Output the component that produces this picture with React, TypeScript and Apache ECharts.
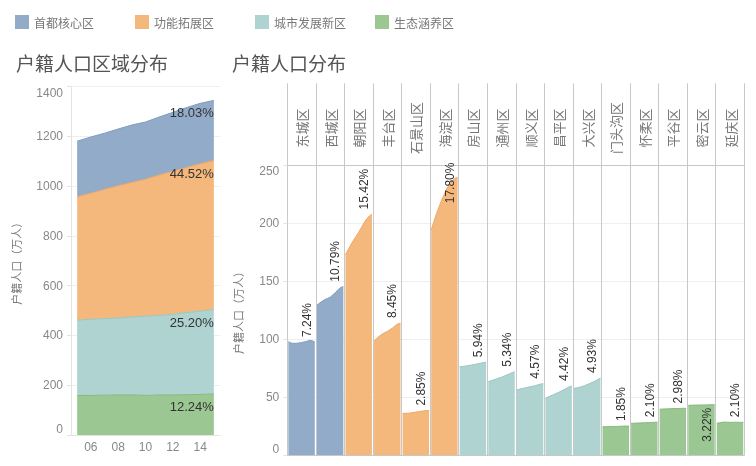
import React, { useEffect, useRef } from 'react';
import * as echarts from 'echarts';

const years = [2005, 2006, 2007, 2008, 2009, 2010, 2011, 2012, 2013, 2014, 2015];

const groupNames = ['首都核心区', '功能拓展区', '城市发展新区', '生态涵养区'];
const groupColors = ['#92abc9', '#f5b87c', '#aed3d0', '#9ac792'];
const groupLineColors = ['#7f9cc0', '#eea763', '#98c6c2', '#86b97d'];

const coreValues = [223, 226, 226, 228, 231, 230, 233, 237, 241, 243, 242];
const expandValues = [496, 507, 519, 532, 541, 550, 564, 575, 583, 592, 599];
const newDevValues = [303, 306, 308, 309, 313, 319, 320, 324, 330, 335, 339];
const ecoValues = [159, 159, 160, 161, 161, 159, 161, 161, 162, 163, 165];
const groupShares = ['18.03%', '44.52%', '25.20%', '12.24%'];

const districts = ['东城区', '西城区', '朝阳区', '丰台区', '石景山区', '海淀区', '房山区', '通州区', '顺义区', '昌平区', '大兴区', '门头沟区', '怀柔区', '平谷区', '密云区', '延庆区'];
const districtGroup = [0, 0, 1, 1, 1, 1, 2, 2, 2, 2, 2, 3, 3, 3, 3, 3];
const districtShares = ['7.24%', '10.79%', '15.42%', '8.45%', '2.85%', '17.80%', '5.94%', '5.34%', '4.57%', '4.42%', '4.93%', '1.85%', '2.10%', '2.98%', '3.22%', '2.10%'];

const dongcheng = [97.7, 96.5, 96.3, 96.3, 96.5, 97, 97.5, 98, 98.8, 98.5, 97.4];
const xicheng = [129, 131, 132.5, 134, 135, 136, 138, 140, 142.5, 144.5, 145.1];
const chaoyang = [172.4, 177, 181, 185, 188.5, 192, 196, 200, 203.5, 206, 207.4];
const fengtai = [98, 100.5, 102.5, 104, 105.5, 106.5, 108, 109.5, 111.5, 113, 113.7];
const shijingshan = [35.9, 35.9, 36, 36.3, 36.6, 37, 37.3, 37.7, 38, 38.3, 38.3];
const haidian = [194, 201, 208, 214, 220, 225, 230, 233.5, 236.5, 238.5, 239.4];
const fangshan = [76, 76.3, 76.6, 77, 77.4, 77.8, 78.2, 78.7, 79.2, 79.7, 79.9];
const tongzhou = [63.2, 64, 64.8, 65.5, 66.3, 67, 68, 69, 70, 71, 71.8];
const shunyi = [56, 56.7, 57.3, 57.8, 58.3, 58.8, 59.3, 59.8, 60.5, 61.2, 61.5];
const changping = [48.9, 50, 51, 52, 53, 54, 55.2, 56.3, 57.5, 58.7, 59.5];
const daxing = [57.5, 57.8, 58.3, 59, 59.8, 60.7, 61.7, 62.7, 63.8, 65, 66.3];
const mentougou = [24.3, 24.4, 24.4, 24.5, 24.5, 24.6, 24.7, 24.8, 24.9, 24.9, 24.9];
const huairou = [27.3, 27.4, 27.5, 27.6, 27.7, 27.8, 27.9, 28, 28.1, 28.2, 28.2];
const pinggu = [39.5, 39.6, 39.7, 39.8, 39.9, 40, 40, 40.1, 40.2, 40.3, 40.1];
const miyun = [42.8, 42.9, 43, 43, 43.1, 43.1, 43.2, 43.2, 43.3, 43.3, 43.3];
const yanqing = [27.4, 27.8, 28.2, 28.4, 28.3, 28.1, 28.2, 28.3, 28.2, 28.1, 28.2];

const districtValues = [dongcheng, xicheng, chaoyang, fengtai, shijingshan, haidian, fangshan, tongzhou, shunyi, changping, daxing, mentougou, huairou, pinggu, miyun, yanqing];

const leftTicks = [0, 200, 400, 600, 800, 1000, 1200, 1400];
const rightTicks = [0, 50, 100, 150, 200, 250];

const FONT = "'Liberation Sans', 'Noto Sans CJK SC', sans-serif";
const CJK = "'Noto Sans CJK SC', sans-serif";

const PANEL = 10.8;
const PAD = 0.4;

export default function App() {
  const ref = useRef<HTMLDivElement>(null);
  useEffect(() => {
    if (!ref.current) return;
    const chart = echarts.init(ref.current, undefined, { renderer: 'svg' });

    const leftSeriesData = [ecoValues, newDevValues, expandValues, coreValues];
    const leftSeriesIdx = [3, 2, 1, 0];
    const leftSeries = leftSeriesIdx.map((gi, k) => {
      const vals = leftSeriesData[k];
      return {
        name: groupNames[gi],
        type: 'line',
        xAxisIndex: 0,
        yAxisIndex: 0,
        stack: 'total',
        encode: { x: 1, y: 0 },
        symbol: 'circle',
        symbolSize: 0,
        showSymbol: true,
        silent: true,
        itemStyle: { color: groupColors[gi] },
        lineStyle: { width: 1, color: groupLineColors[gi] },
        areaStyle: { color: groupColors[gi], opacity: 1 },
        data: vals.map((v, i) => {
          const item: any = { value: [v, years[i]] };
          if (i === vals.length - 1) {
            item.label = {
              show: true,
              formatter: groupShares[gi],
              position: 'bottom',
              align: 'right',
              distance: 6,
              fontSize: 13,
              color: '#333',
              fontFamily: FONT,
            };
          }
          return item;
        }),
      };
    });

    const rightSeries = districts.map((d, di) => {
      const gi = districtGroup[di];
      const vals = districtValues[di];
      const inside = d === '密云区';
      const clampTop = d === '海淀区';
      return {
        name: d,
        type: 'line',
        xAxisIndex: 1,
        yAxisIndex: 1,
        symbol: 'circle',
        symbolSize: 0,
        showSymbol: true,
        silent: true,
        itemStyle: { color: groupColors[gi] },
        lineStyle: { width: 1, color: groupLineColors[gi] },
        areaStyle: { color: groupColors[gi], opacity: 1 },
        data: vals.map((v, i) => {
          const item: any = { value: [di * PANEL + PAD + (years[i] - years[0]), v] };
          if (i === vals.length - 1) {
            item.label = {
              show: true,
              formatter: districtShares[di],
              position: inside ? [-8, 3] : clampTop ? [-8, 26] : [-8, -5],
              rotate: 90,
              align: inside ? 'right' : 'left',
              verticalAlign: 'middle',
              fontSize: 12,
              color: '#333',
              fontFamily: FONT,
            };
          }
          return item;
        }),
      };
    });

    const legendLefts = [15, 135, 255, 375];
    const legends = groupNames.map((n, i) => ({
      data: [n],
      left: legendLefts[i],
      top: 15,
      padding: 0,
      icon: 'rect',
      itemWidth: 14,
      itemHeight: 14,
      itemGap: 0,
      textStyle: { fontSize: 12, color: '#777', fontFamily: CJK },
    }));

    const option: any = {
      animation: false,
      textStyle: { fontFamily: FONT },
      title: [
        { text: '户籍人口区域分布', left: 16, top: 53, padding: 0, textStyle: { fontSize: 19, fontWeight: 'normal', color: '#555', fontFamily: CJK } },
        { text: '户籍人口分布', left: 232, top: 53, padding: 0, textStyle: { fontSize: 19, fontWeight: 'normal', color: '#555', fontFamily: CJK } },
      ],
      legend: legends,
      grid: [
        { left: 71, top: 86.7, width: 149, height: 348.3 },
        { left: 287.3, top: 165, right: 11.7, height: 290 },
        { left: 287.3, top: 83.3, right: 11.7, height: 81.7 },
      ],
      xAxis: [
        {
          type: 'value', gridIndex: 0, min: 2004.55, max: 2015.45,
          axisLine: { show: true, lineStyle: { color: '#e4e4e4' } },
          axisTick: { show: false },
          splitLine: { show: false },
          axisLabel: {
            fontSize: 12, color: '#888', margin: 6,
            formatter: (v: number) => (Number.isInteger(v) && years.includes(v) ? String(v).slice(2) : ''),
          },
        },
        {
          type: 'value', gridIndex: 1, min: 0, max: districts.length * PANEL,
          axisLine: { show: true, onZero: false, lineStyle: { color: '#c8c8c8' } },
          axisTick: { show: false },
          axisLabel: { show: false },
          splitLine: { show: false },
        },
        {
          type: 'category', gridIndex: 1, data: districts, position: 'top', boundaryGap: true,
          axisLine: { show: false },
          axisTick: { show: false },
          axisLabel: { show: false, interval: 0 },
          splitLine: { show: true, interval: 0, lineStyle: { color: '#c8c8c8' } },
        },
        {
          type: 'category', gridIndex: 2, data: districts, position: 'bottom', boundaryGap: true,
          axisLine: { show: true, lineStyle: { color: '#c8c8c8' } },
          axisTick: { show: false },
          axisLabel: {
            interval: 0, inside: true, rotate: 90, margin: 37, align: 'center', verticalAlign: 'middle',
            fontSize: 13, color: '#777', fontFamily: CJK,
          },
          splitLine: { show: true, interval: 0, lineStyle: { color: '#c8c8c8' } },
        },
      ],
      yAxis: [
        {
          type: 'value', gridIndex: 0, min: leftTicks[0], max: leftTicks[leftTicks.length - 1], interval: 200,
          axisLine: { show: true, lineStyle: { color: '#e4e4e4' } },
          axisTick: { show: true, length: 4, lineStyle: { color: '#e4e4e4' } },
          splitLine: { show: true, lineStyle: { color: '#efefef' } },
          axisLabel: {
            fontSize: 12, color: '#888', margin: 8, verticalAlignMinLabel: 'bottom', verticalAlignMaxLabel: 'top',
            formatter: (v: number) => String(v),
          },
          name: '户籍人口（万人）', nameLocation: 'middle', nameGap: 50,
          nameTextStyle: { fontSize: 11, color: '#777', fontFamily: CJK },
        },
        {
          type: 'value', gridIndex: 1, min: rightTicks[0], max: rightTicks[rightTicks.length - 1], interval: 50,
          axisLine: { show: false },
          axisTick: { show: true, length: 4, lineStyle: { color: '#e4e4e4' } },
          splitLine: { show: true, lineStyle: { color: '#efefef' } },
          axisLabel: {
            fontSize: 12, color: '#888', margin: 8, verticalAlignMinLabel: 'bottom', verticalAlignMaxLabel: 'top',
            formatter: (v: number) => String(v),
          },
          name: '户籍人口（万人）', nameLocation: 'middle', nameGap: 44,
          nameTextStyle: { fontSize: 11, color: '#777', fontFamily: CJK },
        },
        { type: 'value', gridIndex: 2, show: false },
      ],
      series: [...leftSeries, ...rightSeries],
    };
    chart.setOption(option);
    return () => chart.dispose();
  }, []);
  return <div ref={ref} style={{ position: 'fixed', left: 0, top: 0, width: 756, height: 466 }} />;
}
